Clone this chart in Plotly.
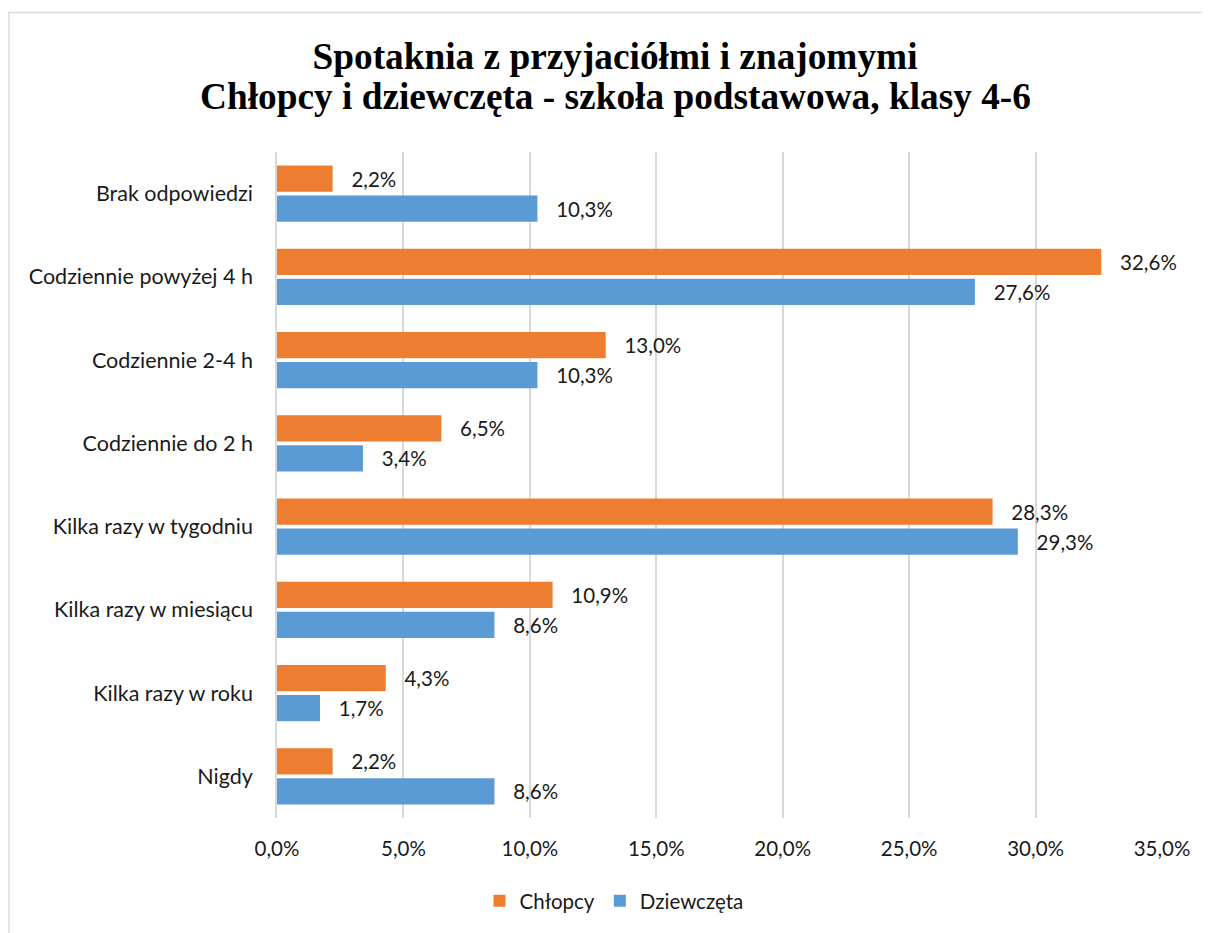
import plotly.graph_objects as go

categories = ["Brak odpowiedzi", "Codziennie powyżej 4 h", "Codziennie 2-4 h",
              "Codziennie do 2 h", "Kilka razy w tygodniu", "Kilka razy w miesiącu",
              "Kilka razy w roku", "Nigdy"]
chlopcy = [2.2, 32.6, 13.0, 6.5, 28.3, 10.9, 4.3, 2.2]
dziewczeta = [10.3, 27.6, 10.3, 3.4, 29.3, 8.6, 1.7, 8.6]
x_ticks = [0, 5, 10, 15, 20, 25, 30, 35]
x_tick_labels = ["0,0%", "5,0%", "10,0%", "15,0%", "20,0%", "25,0%", "30,0%", "35,0%"]
title_lines = ["Spotaknia z przyjaciółmi i znajomymi",
               "Chłopcy i dziewczęta - szkoła podstawowa, klasy 4-6"]

PAD = "\u00a0\u00a0\u00a0"

def fmt(v):
    return PAD + f"{v:.1f}".replace(".", ",") + "%"

FONT = "Lato"
TXT = "#1a1a1a"
NUM_SIZE = 20.5
LBL_SIZE = 21.5
TITLE_SIZE = 37.3

fig = go.Figure()
fig.add_trace(go.Bar(
    y=categories, x=chlopcy, orientation="h", name="Chłopcy",
    marker=dict(color="#ED7D31", line=dict(width=0)),
    text=[fmt(v) for v in chlopcy], textposition="outside",
    textfont=dict(family=FONT, size=NUM_SIZE, color=TXT), cliponaxis=False,
))
fig.add_trace(go.Bar(
    y=categories, x=dziewczeta, orientation="h", name="Dziewczęta",
    marker=dict(color="#5B9BD5", line=dict(width=0)),
    text=[fmt(v) for v in dziewczeta], textposition="outside",
    textfont=dict(family=FONT, size=NUM_SIZE, color=TXT), cliponaxis=False,
))

# page body has an 8px margin; figure coordinates = screen - 8
W, H = 1202, 925
L, R, T, B = 269, 48, 143.5, 115
pw, ph = W - L - R, H - T - B

def px_x(p):
    return (p - L) / pw

def px_y(p):
    return (H - B - p) / ph

TITLE_CX = 607

fig.update_layout(
    width=W, height=H,
    margin=dict(l=L, r=R, t=T, b=B),
    paper_bgcolor="white", plot_bgcolor="white",
    barmode="group", bargap=0.28, bargroupgap=0.13,
    font=dict(family=FONT, size=NUM_SIZE, color=TXT),
    title=dict(
        text=title_lines[0],
        x=TITLE_CX / W, xanchor="center", xref="container",
        y=1 - 48 / H, yanchor="middle", yref="container",
        font=dict(family="Liberation Serif", size=TITLE_SIZE, color="#000000", weight="bold"),
    ),
    annotations=[dict(
        text=title_lines[1], showarrow=False,
        xref="paper", yref="paper", x=px_x(TITLE_CX), y=px_y(88),
        xanchor="center", yanchor="middle",
        font=dict(family="Liberation Serif", size=TITLE_SIZE, color="#000000", weight="bold"),
    )],
    xaxis=dict(
        range=[0, 35], tickvals=x_ticks, ticktext=x_tick_labels,
        showgrid=True, gridcolor="#d9d9d9", gridwidth=1.5,
        zeroline=False, showline=False, ticks="",
        tickfont=dict(family=FONT, size=NUM_SIZE, color=TXT),
        ticklabelstandoff=16,
    ),
    yaxis=dict(
        autorange="reversed", showgrid=False, zeroline=False,
        showline=True, linecolor="#d9d9d9", linewidth=1.5, ticks="",
        tickfont=dict(family=FONT, size=LBL_SIZE, color=TXT),
        ticklabelstandoff=18,
    ),
    legend=dict(
        orientation="h", xref="container", yref="container",
        x=606 / W, xanchor="center", y=1 - 893 / H, yanchor="middle",
        font=dict(family=FONT, size=NUM_SIZE, color=TXT),
        itemwidth=30, traceorder="normal",
    ),
    showlegend=True,
    shapes=[dict(
        type="rect", xref="paper", yref="paper",
        x0=px_x(1), x1=px_x(1230), y0=px_y(950), y1=px_y(4),
        line=dict(color="#d9d9d9", width=1.5), fillcolor="rgba(0,0,0,0)", layer="below",
    )],
)

fig.write_html("out.html")
